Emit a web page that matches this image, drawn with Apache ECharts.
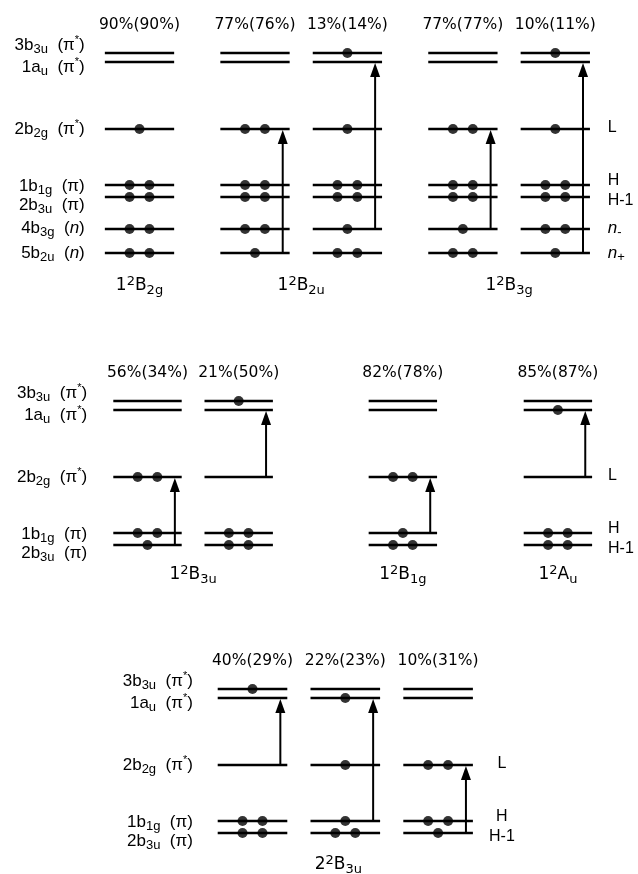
<!DOCTYPE html>
<html>
<head>
<meta charset="utf-8">
<script src="https://cdn.jsdelivr.net/npm/echarts@6/dist/echarts.min.js"></script>
<style>
html, body { margin: 0; padding: 0; background: #fff; }
#main { width: 638px; height: 874px; }
</style>
</head>
<body>
<div id="main"></div>
<script>
// orbital levels (energy in arbitrary units, 2b2g = 0)
var levelNames = ['3b{sub|3u}  (π{sup|*})', '1a{sub|u}  (π{sup|*})', '2b{sub|2g}  (π{sup|*})', '1b{sub|1g}  (π)', '2b{sub|3u}  (π)', '4b{sub|3g}  ({it|n})', '5b{sub|2u}  ({it|n})'];
var levelEnergy = [7.6, 6.7, 0, -5.6, -6.8, -10.0, -12.4];
var sideNames = ['', '', 'L', 'H', 'H-1', '{it|n}{sub|-}', '{it|n}{sub|+}'];

// panel 1 : 1²B2g, 1²B2u, 1²B3g
var p1Slots = [0, 5, 9, 14, 18];
var p1Occ = [
	[0, 0, 1, 2, 2, 2, 2],
	[0, 0, 2, 2, 2, 2, 1],
	[1, 0, 1, 2, 2, 1, 2],
	[0, 0, 2, 2, 2, 1, 2],
	[1, 0, 1, 2, 2, 2, 1]
];
var p1Arrows = [null, [6, 2], [5, 1], [5, 2], [6, 1]];  // [from level, to level]
var p1Weights = ['90%(90%)', '77%(76%)', '13%(14%)', '77%(77%)', '10%(11%)'];
var p1States = ['1{sup2|2}B{sub|2g}', '1{sup2|2}B{sub|2u}', '1{sup2|2}B{sub|3g}'];
var p1StateSlots = [0, 7, 16];

// panel 2 : 1²B3u, 1²B1g, 1²Au
var p2Slots = [0, 4, 11.2, 18];
var p2Occ = [
	[0, 0, 2, 2, 1],
	[1, 0, 0, 2, 2],
	[0, 0, 2, 1, 2],
	[0, 1, 0, 2, 2]
];
var p2Arrows = [[4, 2], [2, 1], [3, 2], [2, 1]];
var p2Weights = ['56%(34%)', '21%(50%)', '82%(78%)', '85%(87%)'];
var p2States = ['1{sup2|2}B{sub|3u}', '1{sup2|2}B{sub|1g}', '1{sup2|2}A{sub|u}'];
var p2StateSlots = [2, 11.2, 18];

// panel 3 : 2²B3u
var p3Slots = [0, 4, 8];
var p3Occ = [
	[1, 0, 0, 2, 2],
	[0, 1, 1, 1, 2],
	[0, 0, 2, 2, 1]
];
var p3Arrows = [[2, 1], [3, 1], [4, 2]];
var p3Weights = ['40%(29%)', '22%(23%)', '10%(31%)'];
var p3States = ['2{sup2|2}B{sub|3u}'];
var p3StateSlots = [3.7];

var LIB = '"Liberation Sans", Arial, sans-serif';
var DJV = '"DejaVu Sans", sans-serif';
function richFor(f) {
	return {
		sub: {fontSize: 13, lineHeight: 10, verticalAlign: 'bottom', fontFamily: f},
		sup: {fontSize: 11, lineHeight: 8, verticalAlign: 'top', fontFamily: f},
		sup2: {fontSize: 13, lineHeight: 10, verticalAlign: 'top', fontFamily: f},
		it: {fontSize: 17, fontStyle: 'italic', fontFamily: f}
	};
}
var richLib = richFor(LIB), richDjv = richFor(DJV);
var leftNudge = [-8, 5, 0, 1, 8, -1, 0];
var sideNudge = [0, 0, -1, -4, 4, -1, 0];

function panelSeries(g, slots, occ, arrows, weights, states, stateSlots, nLev, lay) {
	var levelData = [], dotData = [], arrowData = [], textData = [], texts = [];
	for (var c = 0; c < slots.length; c++) {
		for (var l = 0; l < nLev; l++) {
			levelData.push([slots[c], levelEnergy[l]]);
			if (occ[c][l] == 1) {
				dotData.push([slots[c], levelEnergy[l]]);
			} else if (occ[c][l] == 2) {
				dotData.push([slots[c] - 0.43, levelEnergy[l]]);
				dotData.push([slots[c] + 0.43, levelEnergy[l]]);
			}
		}
		if (arrows[c]) {
			arrowData.push([slots[c] + 1.2, levelEnergy[arrows[c][0]], levelEnergy[arrows[c][1]]]);
		}
		textData.push([slots[c], levelEnergy[0]]);
		texts.push({t: weights[c], dy: -28, align: 'center', size: 15.5, f: DJV});
	}
	for (var s = 0; s < states.length; s++) {
		textData.push([stateSlots[s], levelEnergy[nLev - 1]]);
		texts.push({t: states[s], dy: lay.stateDy, align: 'center', size: 17, f: DJV});
	}
	for (var l = 0; l < nLev; l++) {
		textData.push([slots[0] + lay.leftX, levelEnergy[l]]);
		texts.push({t: levelNames[l], dy: leftNudge[l], align: 'right', size: 17, f: LIB});
		if (sideNames[l]) {
			textData.push([slots[slots.length - 1] + lay.rightX, levelEnergy[l]]);
			texts.push({t: sideNames[l], dy: sideNudge[l], align: lay.rightAlign, size: 16, f: LIB});
		}
	}
	return [{
		type: 'custom',
		xAxisIndex: g, yAxisIndex: g,
		clip: false,
		data: levelData,
		renderItem: function (params, api) {
			var a = api.coord([api.value(0) - 1.5, api.value(1)]);
			var b = api.coord([api.value(0) + 1.5, api.value(1)]);
			return {type: 'line', shape: {x1: a[0], y1: a[1], x2: b[0], y2: b[1]}, style: {stroke: '#000', lineWidth: 2.6}};
		}
	}, {
		type: 'scatter',
		xAxisIndex: g, yAxisIndex: g,
		symbolSize: 10,
		itemStyle: {color: '#000'},
		z: 3,
		data: dotData
	}, {
		type: 'custom',
		xAxisIndex: g, yAxisIndex: g,
		clip: false,
		data: arrowData,
		renderItem: function (params, api) {
			var p0 = api.coord([api.value(0), api.value(1)]);
			var p1 = api.coord([api.value(0), api.value(2)]);
			return {type: 'group', children: [
				{type: 'line', shape: {x1: p0[0], y1: p0[1], x2: p1[0], y2: p1[1] + 10}, style: {stroke: '#000', lineWidth: 2}},
				{type: 'polygon', shape: {points: [[p1[0], p1[1] + 1], [p1[0] - 5, p1[1] + 15], [p1[0] + 5, p1[1] + 15]]}, style: {fill: '#000'}}
			]};
		}
	}, {
		type: 'custom',
		xAxisIndex: g, yAxisIndex: g,
		clip: false,
		data: textData,
		renderItem: function (params, api) {
			var t = texts[params.dataIndex];
			var p = api.coord([api.value(0), api.value(1)]);
			return {type: 'text', x: p[0], y: p[1] + t.dy, style: {
				text: t.t, rich: t.f == DJV ? richDjv : richLib, fill: '#000',
				fontSize: t.size, fontFamily: t.f, lineHeight: 22,
				align: t.align, verticalAlign: 'middle'
			}};
		}
	}];
}

var series = [].concat(
	panelSeries(0, p1Slots, p1Occ, p1Arrows, p1Weights, p1States, p1StateSlots, 7, {leftX: -2.37, rightX: 2.27, rightAlign: 'left', stateDy: 33}),
	panelSeries(1, p2Slots, p2Occ, p2Arrows, p2Weights, p2States, p2StateSlots, 5, {leftX: -2.65, rightX: 2.2, rightAlign: 'left', stateDy: 30}),
	panelSeries(2, p3Slots, p3Occ, p3Arrows, p3Weights, p3States, p3StateSlots, 5, {leftX: -2.57, rightX: 2.75, rightAlign: 'center', stateDy: 32})
);

var myChart = echarts.init(document.getElementById('main'));
myChart.setOption({
	animation: false,
	backgroundColor: '#fff',
	grid: [
		{left: 47.1, top: 49, width: 577.5, height: 210},
		{left: 56.3, top: 397, width: 570, height: 160},
		{left: 66.9, top: 685, width: 440.8, height: 160}
	],
	xAxis: [
		{type: 'value', gridIndex: 0, min: -4, max: 21, show: false},
		{type: 'value', gridIndex: 1, min: -4, max: 21, show: false},
		{type: 'value', gridIndex: 2, min: -8, max: 11, show: false}
	],
	yAxis: [
		{type: 'value', gridIndex: 0, min: -13, max: 8, show: false},
		{type: 'value', gridIndex: 1, min: -8, max: 8, show: false},
		{type: 'value', gridIndex: 2, min: -8, max: 8, show: false}
	],
	series: series
});
</script>
</body>
</html>
